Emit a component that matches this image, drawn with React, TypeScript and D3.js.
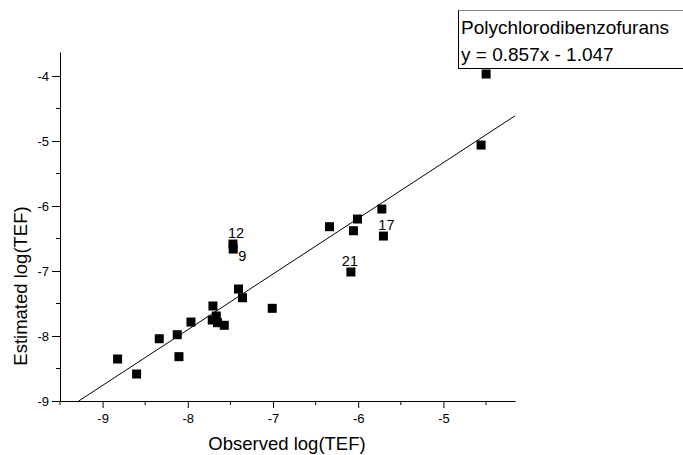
import React, { useEffect, useRef } from "react";
import * as d3 from "d3";

const observed = [-8.824, -8.601, -8.335, -8.124, -8.104, -7.963, -7.705, -7.666, -7.713, -7.651, -7.572, -7.47, -7.467, -7.405, -7.358, -7.009, -6.337, -6.009, -6.056, -5.723, -5.704, -6.086, -4.558, -4.499];
const estimated = [-8.354, -8.585, -8.042, -7.98, -8.318, -7.785, -7.538, -7.692, -7.754, -7.795, -7.835, -6.585, -6.662, -7.277, -7.411, -7.574, -6.318, -6.2, -6.38, -6.046, -6.462, -7.015, -5.062, -3.969];
const pointLabels = ["", "", "", "", "", "", "", "", "", "", "", "12", "9", "", "", "", "", "", "", "", "17", "21", "", ""];
const xTicks = [-9, -8, -7, -6, -5];
const yTicks = [-9, -8, -7, -6, -5, -4];
const slope = 0.857;
const intercept = -1.047;
const legendTitle = "Polychlorodibenzofurans";
const legendEq = "y = 0.857x - 1.047";

export default function App() {
  const ref = useRef<SVGSVGElement>(null);
  useEffect(() => {
    const svg = d3.select(ref.current);
    svg.selectAll("*").remove();
    const font = "'Liberation Sans', Arial, sans-serif";
    const x = d3.scaleLinear().domain([-9.5, -4.16]).range([60, 515]);
    const y = d3.scaleLinear().domain([-9, -3.63]).range([401, 52]);

    // regression line
    const x0 = (-9 - intercept) / slope;
    const x1 = -4.16;
    svg.append("line")
      .attr("x1", x(x0)).attr("y1", y(slope * x0 + intercept))
      .attr("x2", x(x1)).attr("y2", y(slope * x1 + intercept))
      .attr("stroke", "#000").attr("stroke-width", 1);

    // axes
    const xMinor = d3.range(-9.5, -4.1, 0.5).filter((v) => !xTicks.includes(v));
    const yMinor = d3.range(-8.5, -3.6, 0.5).filter((v) => !yTicks.includes(v));
    const xa = d3.axisBottom(x).tickValues(xTicks).tickSize(7).tickSizeOuter(0).tickFormat((d) => String(d));
    const gx = svg.append("g").attr("transform", "translate(0,401)").call(xa);
    gx.selectAll("text").attr("font-family", font).attr("font-size", 13).attr("fill", "#000").attr("y", 22).attr("dy", 0);
    gx.selectAll("line").attr("stroke", "#000");
    gx.select(".domain").attr("stroke", "#000");
    gx.selectAll(".minor").data(xMinor).enter().append("line")
      .attr("x1", (d) => x(d)).attr("x2", (d) => x(d)).attr("y1", 0).attr("y2", 4).attr("stroke", "#000");

    const ya = d3.axisLeft(y).tickValues(yTicks).tickSize(8).tickSizeOuter(0).tickFormat((d) => String(d));
    const gy = svg.append("g").attr("transform", "translate(60,0)").call(ya);
    gy.selectAll("text").attr("font-family", font).attr("font-size", 13).attr("fill", "#000").attr("x", -11);
    gy.selectAll("line").attr("stroke", "#000");
    gy.select(".domain").attr("stroke", "#000");
    gy.selectAll(".minor").data(yMinor).enter().append("line")
      .attr("y1", (d) => y(d)).attr("y2", (d) => y(d)).attr("x1", 0).attr("x2", -4).attr("stroke", "#000");

    // points
    const data = observed.map((o, i) => ({ o, e: estimated[i], l: pointLabels[i] }));
    svg.append("g").selectAll("rect").data(data).enter().append("rect")
      .attr("x", (d) => x(d.o) - 4.5).attr("y", (d) => y(d.e) - 4.5)
      .attr("width", 9).attr("height", 9).attr("fill", "#000");

    // labels
    const labelOffsets: Record<string, [number, number]> = {
      "12": [3, -6], "9": [9, 12], "17": [3, -6], "21": [-1, -6],
    };
    svg.append("g").selectAll("text").data(data.filter((d) => d.l)).enter().append("text")
      .attr("x", (d) => x(d.o) + labelOffsets[d.l][0])
      .attr("y", (d) => y(d.e) + labelOffsets[d.l][1])
      .attr("text-anchor", "middle")
      .attr("font-family", font).attr("font-size", 14.5).attr("fill", "#000")
      .text((d) => d.l);

    // axis titles
    svg.append("text").attr("x", 287).attr("y", 450).attr("text-anchor", "middle")
      .attr("font-family", font).attr("font-size", 18.5).text("Observed log(TEF)");
    svg.append("text").attr("transform", "translate(27,286) rotate(-90)").attr("text-anchor", "middle")
      .attr("font-family", font).attr("font-size", 18.5).text("Estimated log(TEF)");

    // legend box
    svg.append("rect").attr("x", 458.5).attr("y", 10.5).attr("width", 240).attr("height", 58)
      .attr("fill", "#fff").attr("stroke", "#000").attr("stroke-width", 1);
    svg.append("line").attr("x1", 458.5).attr("x2", 683).attr("y1", 10.5).attr("y2", 10.5).attr("stroke", "#888");
    svg.append("text").attr("x", 461).attr("y", 34).attr("font-family", font).attr("font-size", 19).text(legendTitle);
    svg.append("text").attr("x", 461).attr("y", 61).attr("font-family", font).attr("font-size", 19).text(legendEq);
  }, []);
  return (
    <svg ref={ref} width={683} height={455}
      style={{ position: "absolute", left: 0, top: 0, background: "#fff" }} />
  );
}
